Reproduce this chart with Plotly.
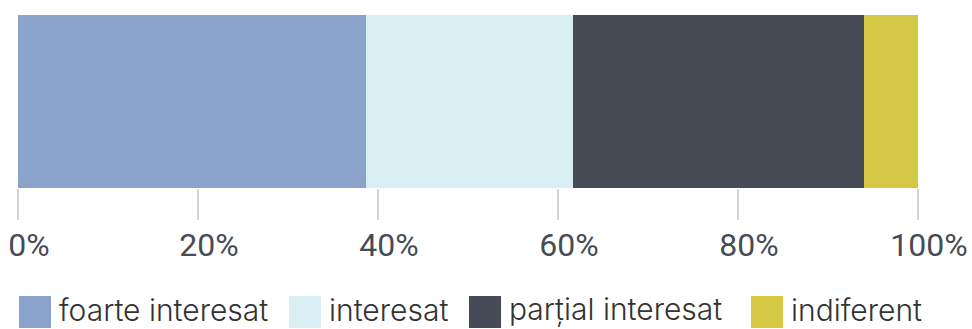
import plotly.graph_objects as go

# Survey answer shares (percent of respondents)
categories = ["foarte interesat", "interesat", "parțial interesat", "indiferent"]
shares = [38.67, 23.0, 32.33, 6.0]
colors = ["#8BA3CB", "#D9EEF3", "#474B56", "#D5C845"]
tick_values = [0, 20, 40, 60, 80, 100]
tick_labels = [f"{v}%" for v in tick_values]

fig = go.Figure()
for name, val, col in zip(categories, shares, colors):
    fig.add_trace(go.Bar(
        x=[val], y=[""], name=name, orientation="h",
        marker=dict(color=col, line=dict(width=0)),
        showlegend=False, hoverinfo="x+name",
    ))

# Hand-built legend: big swatches followed by labels
legend_x = [19, 289, 469, 751]
for name, col, lx in zip(categories, colors, legend_x):
    fig.add_shape(type="rect", xref="paper", yref="paper",
                  x0=(lx - 18) / 900, x1=(lx + 14) / 900,
                  y0=(188 - 296) / 173, y1=(188 - 328) / 173,
                  fillcolor=col, line=dict(width=0))
    fig.add_annotation(text=name, xref="paper", yref="paper",
                       x=(lx + 21) / 900, y=(188 - 309.5) / 173,
                       xanchor="left", yanchor="middle", showarrow=False,
                       borderpad=0,
                       font=dict(family="Inter", size=30,
                                 color="#333333", weight=300))

fig.update_layout(
    barmode="stack",
    bargap=0,
    width=972, height=329,
    margin=dict(l=18, r=54, t=15, b=141),
    paper_bgcolor="white", plot_bgcolor="white",
    xaxis=dict(
        range=[0, 100], tickvals=tick_values, ticktext=tick_labels,
        ticks="outside", ticklen=31, tickwidth=2, tickcolor="#d4d4d4",
        showgrid=True, gridcolor="#e0e0e0", gridwidth=2,
        zeroline=False, showline=False, fixedrange=True, automargin=False,
        tickfont=dict(family="Roboto", size=32, color="#474B56"),
        ticklabelshift=11, ticklabelstandoff=-2,
    ),
    yaxis=dict(showticklabels=False, showgrid=False, zeroline=False, fixedrange=True),
)

fig.write_html("out.html")
